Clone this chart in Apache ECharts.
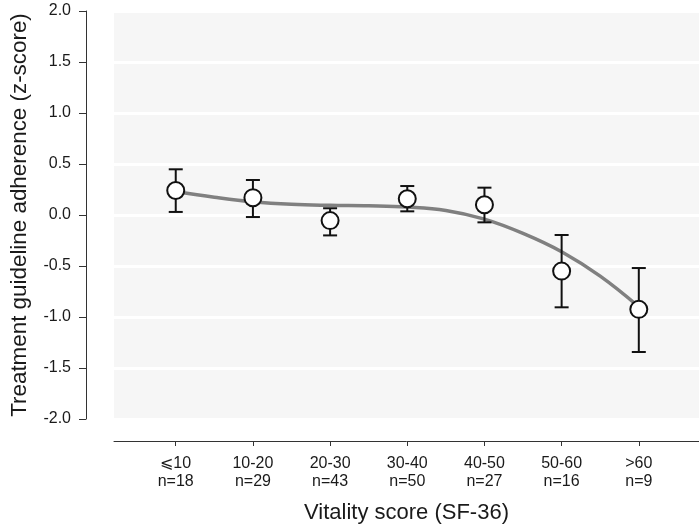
<!DOCTYPE html>
<html>
<head>
<meta charset="utf-8">
<script src="https://cdn.jsdelivr.net/npm/echarts@6/dist/echarts.min.js"></script>
<style>html,body{margin:0;padding:0;background:#fff;}#c{width:699px;height:530px;}</style>
</head>
<body>
<div id="c"></div>
<script>
const categories = ['⩽10', '10-20', '20-30', '30-40', '40-50', '50-60', '>60'];
const counts = ['n=18', 'n=29', 'n=43', 'n=50', 'n=27', 'n=16', 'n=9'];
const means = [0.24, 0.17, -0.055, 0.16, 0.10, -0.55, -0.925];
const upper = [0.448, 0.343, 0.066, 0.284, 0.268, -0.196, -0.52];
const lower = [0.03, -0.02, -0.20, 0.036, -0.072, -0.905, -1.343];
const fitX = [0, 0.5, 1, 1.5, 2, 2.5, 3, 3.5, 4, 4.5, 5, 5.5, 6];
const fitY = [0.23, 0.175, 0.13, 0.105, 0.095, 0.09, 0.078, 0.045, -0.04, -0.18, -0.36, -0.6, -0.9];
const yMin = -2, yMax = 2, yStep = 0.5;

const FONT = "'Liberation Sans', Arial, sans-serif";
const positions = categories.map((_, i) => i);
const chart = echarts.init(document.getElementById('c'), null, {renderer: 'canvas'});

const option = {
  animation: false,
  backgroundColor: '#ffffff',
  grid: {left: 114, right: 0, top: 11, bottom: 111, show: true, backgroundColor: '#f6f6f6', borderWidth: 0},
  xAxis: {
    type: 'value', min: -0.8, max: 6.78, offset: 22,
    name: 'Vitality score (SF-36)', nameLocation: 'middle', nameGap: 61,
    nameTextStyle: {fontFamily: FONT, fontSize: 22, color: '#1a1a1a'},
    axisLine: {show: true, onZero: false, lineStyle: {color: '#333', width: 1}},
    axisTick: {show: true, length: 5, lineStyle: {color: '#333'}, customValues: positions},
    axisLabel: {
      customValues: positions, margin: 14, fontFamily: FONT, fontSize: 16, lineHeight: 18, color: '#1a1a1a',
      formatter: v => { const i = Math.round(v); return categories[i] + '\n' + counts[i]; }
    },
    splitLine: {show: false}
  },
  yAxis: {
    type: 'value', min: yMin, max: yMax, interval: yStep, offset: 28,
    name: 'Treatment guideline adherence (z-score)', nameLocation: 'middle', nameGap: 55,
    nameTextStyle: {fontFamily: FONT, fontSize: 22.4, color: '#1a1a1a'},
    axisLine: {show: true, onZero: false, lineStyle: {color: '#333', width: 1}},
    axisTick: {show: true, length: 7, lineStyle: {color: '#333'}},
    axisLabel: {margin: 15, fontFamily: FONT, fontSize: 16, color: '#1a1a1a', formatter: v => v.toFixed(1)},
    splitLine: {show: true, lineStyle: {color: '#ffffff', width: 3}}
  },
  series: [
    {
      type: 'line', data: fitX.map((x, i) => [x, fitY[i]]), smooth: 0.4, symbol: 'none',
      lineStyle: {color: '#808080', width: 3.5}, z: 2
    },
    {
      type: 'custom', z: 3,
      data: positions.map((x, i) => [x, lower[i], upper[i]]),
      renderItem: (params, api) => {
        const x = api.value(0), lo = api.value(1), hi = api.value(2);
        const pLo = api.coord([x, lo]), pHi = api.coord([x, hi]);
        const w = 7;
        const st = {stroke: '#111', lineWidth: 2};
        return {type: 'group', children: [
          {type: 'line', shape: {x1: pHi[0], y1: pHi[1], x2: pLo[0], y2: pLo[1]}, style: st},
          {type: 'line', shape: {x1: pHi[0] - w, y1: pHi[1], x2: pHi[0] + w, y2: pHi[1]}, style: st},
          {type: 'line', shape: {x1: pLo[0] - w, y1: pLo[1], x2: pLo[0] + w, y2: pLo[1]}, style: st}
        ]};
      }
    },
    {
      type: 'scatter', z: 4, data: positions.map((x, i) => [x, means[i]]),
      symbol: 'circle', symbolSize: 17,
      itemStyle: {color: '#ffffff', borderColor: '#111', borderWidth: 2, opacity: 1}
    }
  ]
};
chart.setOption(option);
</script>
</body>
</html>
